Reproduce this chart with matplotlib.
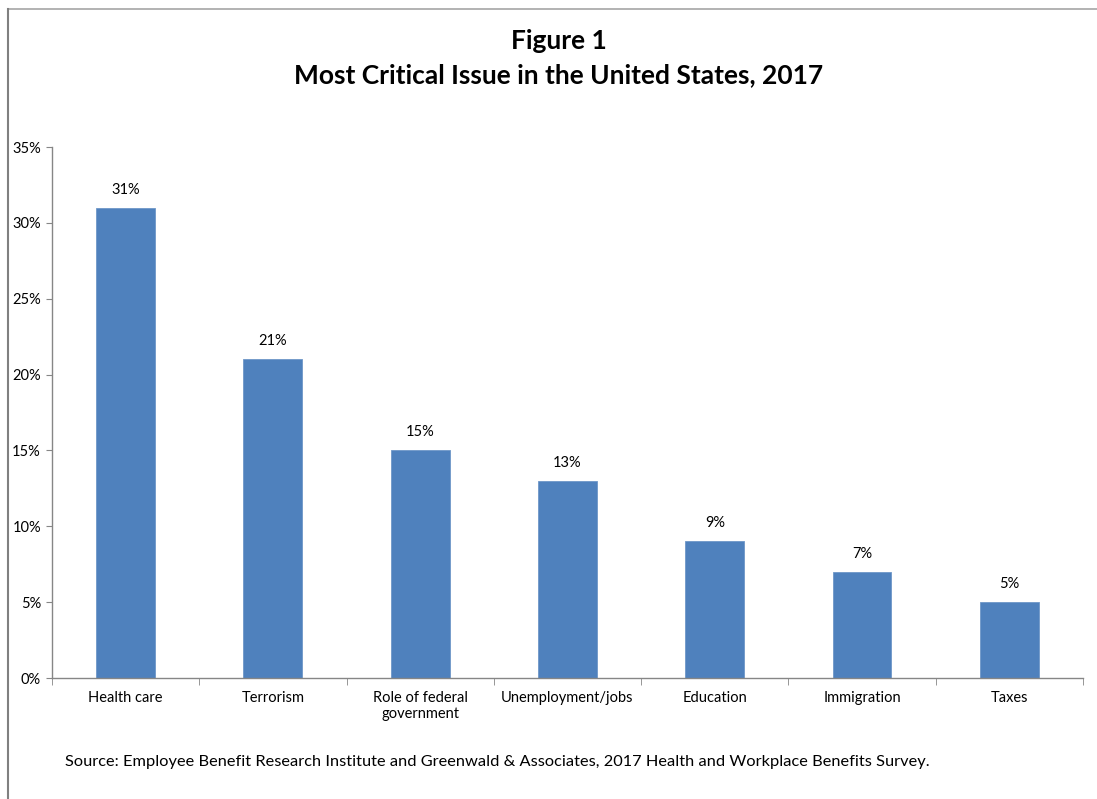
import matplotlib.pyplot as plt
import matplotlib.lines as mlines
import numpy as np

plt.rcParams['font.family'] = ['Lato', 'DejaVu Sans']

categories = ['Health care', 'Terrorism', 'Role of federal\ngovernment',
              'Unemployment/jobs', 'Education', 'Immigration', 'Taxes']
values = [31, 21, 15, 13, 9, 7, 5]
yticks = [0, 5, 10, 15, 20, 25, 30, 35]

bar_color = '#4F81BD'
axis_color = '#868686'


def main():
    fig = plt.figure(figsize=(10.97, 7.99), dpi=100)
    ax = fig.add_axes([0.0474, 0.1514, 0.9398, 0.6646])

    x = np.arange(len(categories))
    ax.bar(x, values, width=0.4, color=bar_color, edgecolor='#6E97C8', linewidth=0.6)

    for xi, v in zip(x, values):
        ax.annotate(f'{v}%', (xi, v), xytext=(0, 8), textcoords='offset points',
                    ha='center', va='bottom', fontsize=10.5)

    ax.set_xlim(-0.5, len(categories) - 0.5)
    ax.set_ylim(0, 35)
    ax.set_yticks(yticks)
    ax.set_yticklabels([f'{t}%' for t in yticks], fontsize=10.5)
    ax.set_xticks(x)
    ax.set_xticklabels(categories, fontsize=10.5, va='top', linespacing=1.25)
    ax.tick_params(axis='x', length=0, pad=9)
    ax.set_xticks(np.arange(len(categories) + 1) - 0.5, minor=True)
    ax.tick_params(axis='x', which='minor', length=5, color=axis_color, direction='out')
    ax.tick_params(axis='y', length=4, color=axis_color, pad=4)

    for s in ['top', 'right']:
        ax.spines[s].set_visible(False)
    for s in ['left', 'bottom']:
        ax.spines[s].set_color(axis_color)
        ax.spines[s].set_linewidth(1)

    fig.text(0.5095, 0.949, 'Figure 1', ha='center', va='center',
             fontsize=19, fontweight='bold')
    fig.text(0.5095, 0.906, 'Most Critical Issue in the United States, 2017',
             ha='center', va='center', fontsize=19, fontweight='bold')
    fig.text(0.059, 0.046, 'Source: Employee Benefit Research Institute and Greenwald & Associates, '
             '2017 Health and Workplace Benefits Survey.', ha='left', va='center', fontsize=11.8)

    # outer frame (top and left edges only)
    fig.add_artist(mlines.Line2D([0.0073, 1.0], [0.9887, 0.9887], color='#A6A6A6', lw=1.2,
                                 transform=fig.transFigure))
    fig.add_artist(mlines.Line2D([0.0073, 0.0073], [0.0, 0.9887], color='#808080', lw=1.5,
                                 transform=fig.transFigure))

    fig.savefig('out.png', dpi=100, facecolor='white')


if __name__ == '__main__':
    main()
